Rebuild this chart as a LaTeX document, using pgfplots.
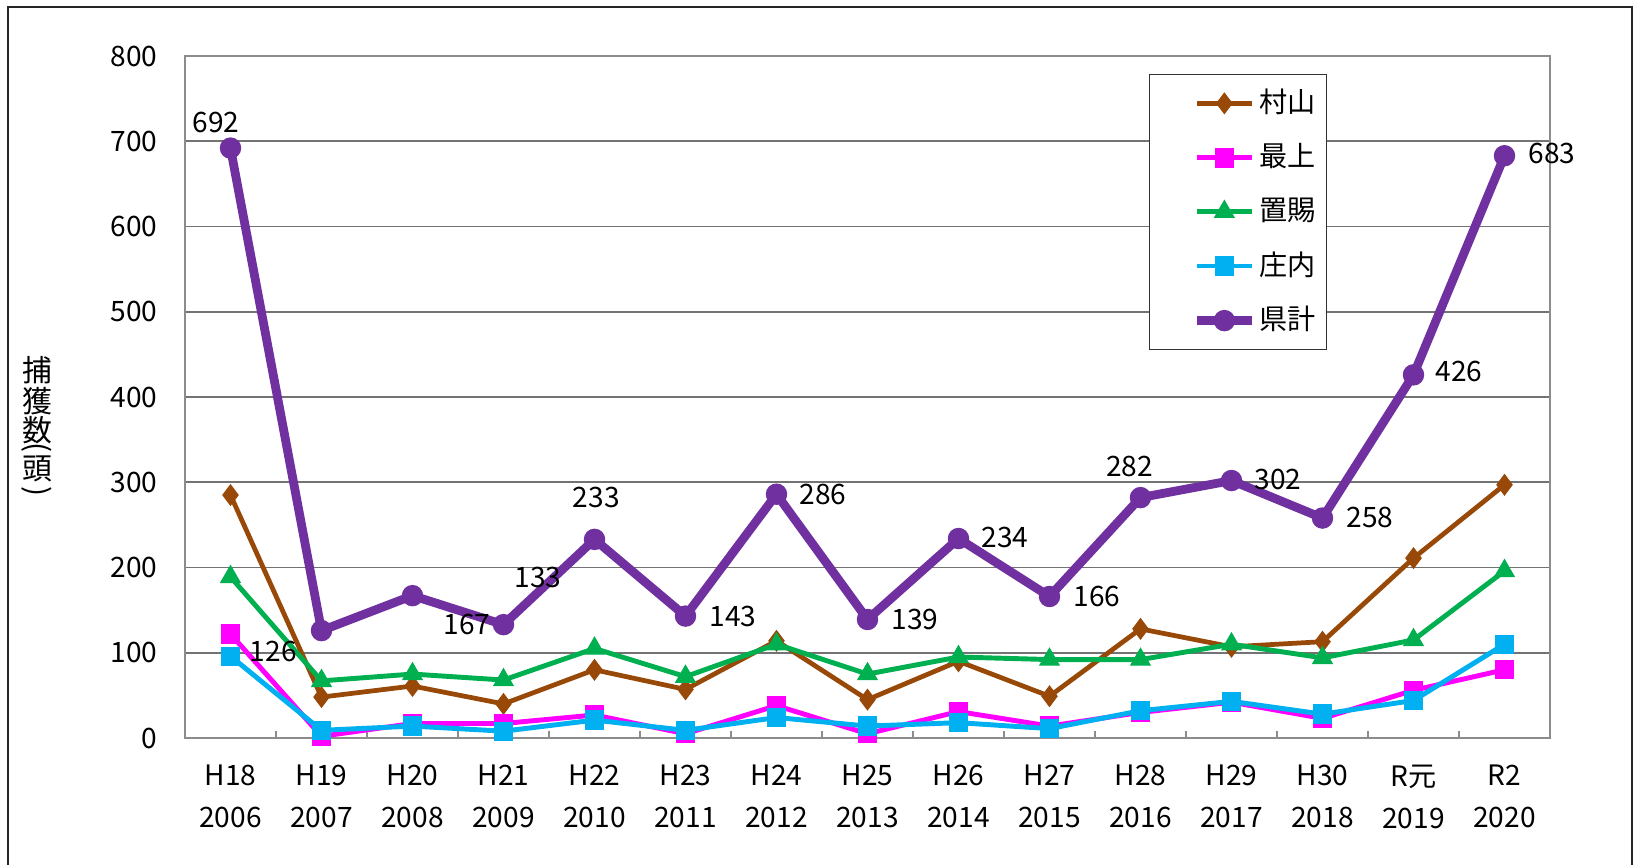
\documentclass[border=0pt]{standalone}
\usepackage{fontspec}
\setmainfont{Noto Sans CJK JP}
\usepackage{pgfplots}
\usepackage{pgfplotstable}
\pgfplotsset{compat=1.18}

\definecolor{murayama}{HTML}{984807}
\definecolor{mogami}{HTML}{FF00FF}
\definecolor{okitama}{HTML}{00B050}
\definecolor{shonai}{HTML}{00B0F0}
\definecolor{kenkei}{HTML}{7030A0}

% capture counts per region, H18 (2006) .. R2 (2020)
\pgfplotstableread{
x  murayama mogami okitama shonai total
0  285      122    189     96     692
1  48       2      67      9      126
2  61       17     75      14     167
3  40       17     68      8      133
4  80       27     105     21     233
5  57       5      72      9      143
6  114      38     110     24     286
7  45       5      75      14     139
8  90       31     95      18     234
9  49       14     92      11     166
10 128      30     92      32     282
11 107      42     110     43     302
12 113      23     94      28     258
13 211      56     115     44     426
14 297      80     196     110    683
}\datatable

\begin{document}
\begin{tikzpicture}
\path[use as bounding box] (0,0) rectangle (163.6mm,86.5mm);
% outer frame (bottom edge cut off)
\draw[black!85, line width=0.35pt] (0.8mm,0) -- (0.8mm,85.8mm) -- (163.2mm,85.8mm) -- (163.2mm,0);

\begin{axis}[
  at={(18.5mm,12.7mm)}, anchor=south west,
  width=136.5mm, height=68.2mm, scale only axis,
  xmin=-0.5, xmax=14.5, ymin=0, ymax=800,
  xtick={0,...,14},
  xticklabels={{H18\\2006},{H19\\2007},{H20\\2008},{H21\\2009},{H22\\2010},{H23\\2011},{H24\\2012},{H25\\2013},{H26\\2014},{H27\\2015},{H28\\2016},{H29\\2017},{H30\\2018},{R元\\2019},{R2\\2020}},
  minor xtick={0.5,1.5,...,13.5},
  ytick={0,100,...,800},
  tick align=inside,
  xtick pos=bottom, ytick pos=left,
  major tick length=0pt, minor tick length=0.7mm,
  minor tick style={black!45, line width=0.5pt},
  ymajorgrids,
  grid style={black!55, line width=0.45pt},
  axis line style={black!45, line width=0.7pt},
  /pgf/number format/assume math mode=true,
  ticklabel style={font=\fontsize{8}{12}\selectfont},
  xticklabel style={align=center, anchor=north, inner sep=0pt, yshift=-2.6mm},
  yticklabel style={anchor=east, inner sep=0pt, xshift=-2.7mm},
  clip=false,
  legend cell align=left,
  legend style={at={(rel axis cs:0.706,0.974)}, anchor=north west,
    draw=black!80, line width=0.45pt, font=\fontsize{8}{10}\selectfont,
    inner xsep=0.8mm, inner ysep=0.5mm, row sep=0.7mm,
    nodes={inner xsep=0.3mm, inner ysep=0.94mm}},
  legend image code/.code={
    \path (-3.5mm,0);
    \draw[mark repeat=2,mark phase=2] plot coordinates {(0mm,0mm) (2.75mm,0mm) (5.5mm,0mm)};
  },
]
\addplot[murayama, line width=1.35pt, mark=diamond*, mark size=2.9pt,
  mark options={solid, line width=0.3pt, fill=murayama}] table[x=x, y=murayama]{\datatable};
\addlegendentry{村山}
\addplot[mogami, line width=1.4pt, mark=square*, mark size=2.6pt,
  mark options={solid, line width=0.3pt, fill=mogami}] table[x=x, y=mogami]{\datatable};
\addlegendentry{最上}
\addplot[okitama, line width=1.4pt, mark=triangle*, mark size=3.2pt,
  mark options={solid, line width=0.3pt, fill=okitama}] table[x=x, y=okitama]{\datatable};
\addlegendentry{置賜}
\addplot[shonai, line width=1.4pt, mark=square*, mark size=2.6pt,
  mark options={solid, line width=0.3pt, fill=shonai}] table[x=x, y=shonai]{\datatable};
\addlegendentry{庄内}
\addplot[kenkei, line width=2.5pt, mark=*, mark size=2.9pt,
  mark options={solid, line width=0.3pt, fill=kenkei}] table[x=x, y=total]{\datatable};
\addlegendentry{県計}

% data labels of the prefecture total, placed as in the original
\begin{scope}[every node/.style={font=\fontsize{8}{10}\selectfont, inner sep=0pt}]
\node at (axis cs:-0.16,722) {692};
\node at (axis cs:0.47,101) {126};
\node at (axis cs:2.6,133) {167};
\node at (axis cs:3.38,188) {133};
\node at (axis cs:4.02,282) {233};
\node at (axis cs:5.52,142) {143};
\node at (axis cs:6.51,286) {286};
\node at (axis cs:7.52,139) {139};
\node at (axis cs:8.51,235) {234};
\node at (axis cs:9.52,166) {166};
\node at (axis cs:9.88,319) {282};
\node at (axis cs:11.51,303) {302};
\node at (axis cs:12.52,259) {258};
\node at (axis cs:13.5,430) {426};
\node at (axis cs:14.52,686) {683};
\end{scope}
\end{axis}

% vertical y axis title
\begin{scope}[every node/.style={font=\fontsize{8.5}{10}\selectfont, inner sep=0pt}]
\node at (3.7mm,49.5mm) {捕};
\node at (3.7mm,46.4mm) {獲};
\node at (3.7mm,43.5mm) {数};
\node[rotate=-90] at (3.7mm,41.7mm) {(};
\node at (3.7mm,39.6mm) {頭};
\node[rotate=-90] at (3.7mm,37.3mm) {)};
\end{scope}
\end{tikzpicture}
\end{document}
